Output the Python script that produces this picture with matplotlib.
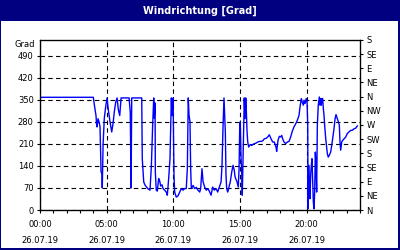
import matplotlib
matplotlib.use('Agg')
import matplotlib.pyplot as plt
from matplotlib.patches import Rectangle
from matplotlib.ticker import MultipleLocator

# Daten: Stunden seit 00:00 am 26.07.19, Windrichtung in Grad
hours = [0.00, 4.00, 4.09, 4.20, 4.24, 4.28, 4.35, 4.43, 4.50, 4.58, 4.65, 4.67,
         4.73, 4.82, 4.93, 5.03, 5.12, 5.25, 5.38, 5.48, 5.57, 5.68, 5.78, 5.87,
         5.98, 6.08, 6.68, 6.77, 6.83, 6.88, 7.63, 7.67, 7.78, 7.88, 8.08, 8.25,
         8.35, 8.45, 8.53, 8.57, 8.63, 8.65, 8.72, 8.80, 8.90, 8.98, 9.05, 9.15,
         9.23, 9.35, 9.47, 9.55, 9.65, 9.70, 9.75, 9.85, 9.90, 9.98, 10.05, 10.10,
         10.22, 10.35, 10.48, 10.60, 10.73, 10.85, 10.97, 11.05, 11.12, 11.18, 11.25,
         11.30, 11.35, 11.48, 11.60, 11.72, 11.85, 11.98, 12.05, 12.15, 12.23, 12.35,
         12.47, 12.60, 12.73, 12.83, 12.95, 13.07, 13.20, 13.33, 13.45, 13.58, 13.65,
         13.73, 13.80, 13.85, 13.90, 13.95, 14.00, 14.08, 14.15, 14.20, 14.27, 14.38,
         14.48, 14.57, 14.63, 14.78, 14.87, 14.93, 14.98, 15.02, 15.08, 15.13, 15.17,
         15.23, 15.28, 15.32, 15.38, 15.43, 15.47, 15.53, 15.58, 15.65, 15.77, 15.88,
         16.03, 16.18, 16.33, 16.48, 16.63, 16.73, 16.82, 16.97, 17.08, 17.20, 17.33,
         17.45, 17.57, 17.70, 17.75, 17.85, 17.95, 18.05, 18.13, 18.20, 18.30, 18.43,
         18.55, 18.68, 18.80, 18.92, 19.05, 19.18, 19.30, 19.43, 19.50, 19.60, 19.67,
         19.75, 19.80, 19.88, 19.97, 20.03, 20.08, 20.10, 20.15, 20.20, 20.25, 20.30,
         20.35, 20.40, 20.45, 20.50, 20.55, 20.60, 20.65, 20.70, 20.75, 20.80, 20.87,
         20.95, 21.00, 21.05, 21.10, 21.15, 21.20, 21.25, 21.30, 21.35, 21.43, 21.55,
         21.62, 21.70, 21.80, 21.88, 21.95, 22.05, 22.13, 22.20, 22.30, 22.38, 22.45,
         22.50, 22.55, 22.63, 22.70, 22.80, 22.93, 23.05, 23.18, 23.30, 23.42, 23.55,
         23.68, 23.80]
direction = [358, 358, 330, 300, 274, 264, 290, 280, 265, 121, 115, 70,
             206, 290, 330, 356, 320, 280, 248, 275, 311, 343, 356, 320,
             300, 356, 356, 311, 70, 356, 356, 163, 89, 79, 68, 63,
             137, 270, 356, 292, 340, 120, 63, 60, 100, 92, 76, 80,
             68, 63, 57, 47, 100, 131, 163, 356, 300, 356, 110, 57,
             41, 45, 57, 68, 63, 68, 68, 131, 356, 300, 280,
             131, 68, 78, 68, 72, 63, 57, 68, 131, 90, 73,
             63, 68, 57, 47, 73, 63, 68, 57, 73, 89, 142,
             269, 356, 301, 248, 110, 68, 57, 68, 78, 89, 121,
             142, 126, 105, 89, 73, 131, 269, 280, 163, 121, 47,
             163, 269, 356, 290, 356, 322, 248, 216, 200, 208, 205,
             210, 212, 216, 218, 218, 221, 226, 228, 232, 239, 226,
             216, 216, 200, 186, 221, 234, 232, 237, 226, 216, 211,
             216, 218, 232, 250, 264, 274, 285, 301, 327, 354, 343,
             333, 349, 338, 354, 343, 269, 4, 142, 79, 36, 110,
             142, 163, 89, 25, 4, 57, 184, 142, 57, 269, 333,
             359, 333, 354, 333, 354, 354, 322, 301, 269, 226, 179,
             168, 174, 184, 205, 226, 258, 290, 303, 290, 280, 269,
             216, 190, 216, 221, 226, 232, 243, 248, 253, 253, 258,
             260, 267]

left_ticks = [0, 70, 140, 210, 280, 350, 420, 490]
compass_ticks = [0, 45, 90, 135, 180, 225, 270, 315, 360, 405, 450, 495, 540]
compass_labels = ['N', 'NE', 'E', 'SE', 'S', 'SW', 'W', 'NW', 'N', 'NE', 'E', 'SE', 'S']
time_ticks = [0, 5, 10, 15, 20]
time_labels = ['00:00\n26.07.19', '05:00\n26.07.19', '10:00\n26.07.19',
               '15:00\n26.07.19', '20:00\n26.07.19']

navy = '#000080'

fig = plt.figure(figsize=(4, 2.5), dpi=100)
fig.patch.set_facecolor(navy)
# weisser Innenbereich unter der Titelleiste
fig.add_artist(Rectangle((1 / 400, 2 / 250), 397 / 400, 227 / 250,
                         transform=fig.transFigure, facecolor='white',
                         edgecolor='none', zorder=0))
fig.text(0.5, 1 - 10.5 / 250, 'Windrichtung [Grad]', color='white',
         fontsize=7, fontweight='bold', ha='center', va='center')

ax = fig.add_axes([40 / 400, 40 / 250, 320 / 400, 170 / 250])
ax.set_facecolor('white')
ax.plot(hours, direction, color='#0000FF', linewidth=1.0)

ax.set_xlim(0, 24)
ax.set_ylim(0, 540)
ax.set_yticks(left_ticks)
ax.set_xticks(time_ticks)
ax.set_xticklabels(time_labels)
ax.xaxis.set_minor_locator(MultipleLocator(1))
for lbl in ax.get_xticklabels():
    lbl.set_linespacing(1.9)

ax.tick_params(axis='both', which='both', direction='out', length=2.5,
               width=0.8, labelsize=6, pad=2, color='black')
ax.tick_params(axis='x', which='major', pad=5)

ax.grid(True, which='major', color='black', linestyle=(0, (4, 3)), linewidth=0.8)
for sp in ax.spines.values():
    sp.set_linewidth(0.9)
    sp.set_color('black')

ax2 = ax.twinx()
ax2.set_ylim(0, 540)
ax2.set_yticks(compass_ticks)
ax2.set_yticklabels(compass_labels)
ax2.tick_params(axis='y', direction='out', length=2.5, width=0.8,
                labelsize=6, pad=2)

ax.text(-5 / 320, 1 - 5 / 170, 'Grad', transform=ax.transAxes,
        fontsize=6, ha='right', va='center')

plt.savefig('out.png', dpi=100, facecolor=navy)
